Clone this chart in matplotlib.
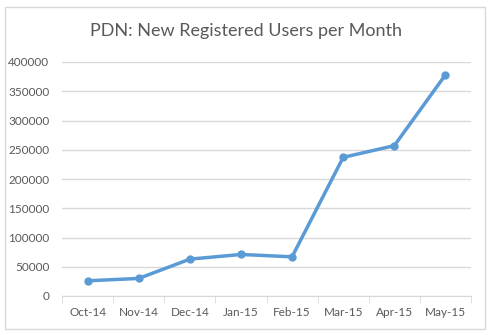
import matplotlib
matplotlib.use("Agg")
import matplotlib.pyplot as plt
from matplotlib.patches import Rectangle

months = ["Oct-14", "Nov-14", "Dec-14", "Jan-15", "Feb-15", "Mar-15", "Apr-15", "May-15"]
new_users = [26000, 30000, 63000, 71000, 67000, 237000, 257000, 378000]
y_ticks = [0, 50000, 100000, 150000, 200000, 250000, 300000, 350000, 400000]

plt.rcParams['font.family'] = ['Lato', 'DejaVu Sans']

fig = plt.figure(figsize=(4.91, 3.35), dpi=100)
fig.patch.set_facecolor('white')

# outer chart border
fig.patches.append(Rectangle((5 / 491, 1 - 329 / 335), 480 / 491, 322 / 335,
                             transform=fig.transFigure, fill=False,
                             edgecolor='#d9d9d9', linewidth=1))

ax = fig.add_axes([62 / 491, 1 - 296 / 335, 409 / 491, 234 / 335])
x = list(range(len(months)))
ax.plot(x, new_users, color='#5b9bd5', linewidth=2.5, marker='o', markersize=5,
        solid_joinstyle='round')

ax.set_xlim(-0.5, len(months) - 0.5)
ax.set_ylim(0, 400000)
ax.set_yticks(y_ticks)
ax.set_yticklabels([str(v) for v in y_ticks])
ax.set_xticks(x)
ax.set_xticklabels(months)
ax.set_xticks([i - 0.5 for i in range(len(months) + 1)], minor=True)

ax.grid(axis='y', color='#d9d9d9', linewidth=1)
ax.set_axisbelow(True)
for side in ['top', 'right', 'left']:
    ax.spines[side].set_visible(False)
ax.spines['bottom'].set_color('#d9d9d9')

ax.tick_params(axis='y', length=0, pad=9, labelsize=8.5, labelcolor='#595959')
ax.tick_params(axis='x', which='major', length=0, pad=8, labelsize=8.5, labelcolor='#595959')
ax.tick_params(axis='x', which='minor', length=5, color='#d9d9d9')

fig.text(0.5, 1 - 31 / 335, "PDN: New Registered Users per Month", ha='center', va='center',
         fontsize=13, color='#595959')

fig.savefig("out.png", dpi=100, facecolor='white')
